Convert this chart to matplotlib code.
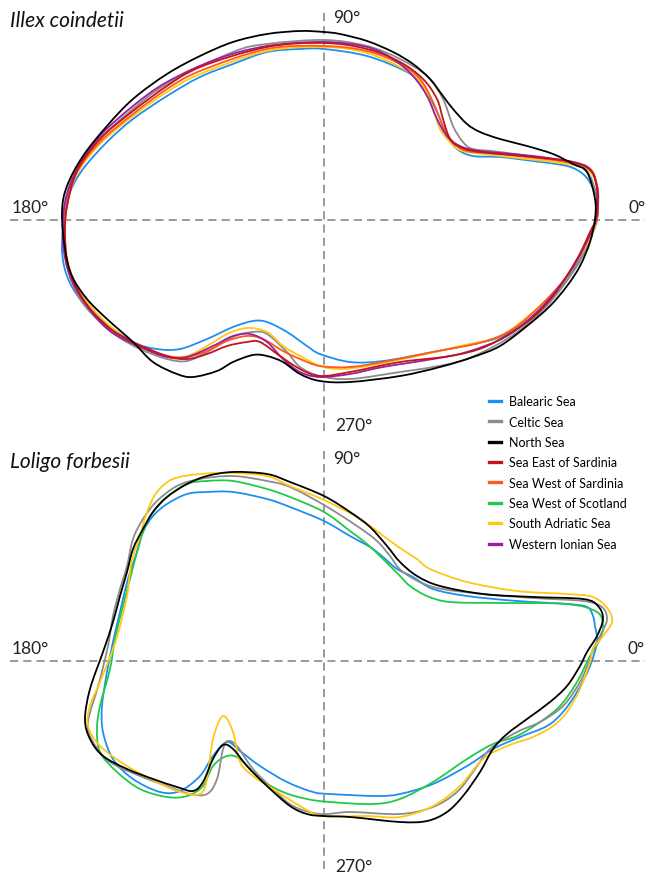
import numpy as np
import matplotlib
matplotlib.use("Agg")
import matplotlib.pyplot as plt
from matplotlib.path import Path
from matplotlib.patches import PathPatch
from matplotlib.lines import Line2D

plt.rcParams["font.family"] = ["Lato", "DejaVu Sans"]

# ── Mean statolith outlines, (x, y) relative to the centroid ─────────────────
# Listed counter-clockwise starting near 0°.

REGIONS = [
    "Balearic Sea", "Celtic Sea", "North Sea", "Sea East of Sardinia",
    "Sea West of Sardinia", "Sea West of Scotland", "South Adriatic Sea",
    "Western Ionian Sea",
]
COLORS = ["#1e8ff0", "#8c8c8c", "#000000", "#c0141e",
          "#ff5a1a", "#22c84a", "#ffc814", "#9b1fa0"]

# Illex coindetii
ILLEX_BALEARIC = [
    (273, 1), (273, 21), (268, 34), (259, 46), (243, 54), (209, 59), (176, 63),
    (149, 64), (133, 71), (123, 84), (113, 108), (99, 134), (83, 148), (43, 164),
    (0, 171), (-24, 171), (-57, 168), (-91, 156), (-124, 143), (-157, 124),
    (-191, 101), (-217, 78), (-241, 51), (-254, 28), (-259, 8), (-262, -29),
    (-257, -56), (-244, -79), (-224, -99), (-191, -122), (-167, -129),
    (-144, -129), (-117, -119), (-91, -107), (-71, -101), (-57, -102),
    (-37, -112), (-17, -126), (-4, -134), (26, -142), (59, -141), (109, -132),
    (159, -122), (183, -114), (209, -96), (236, -69), (256, -39), (269, -12),
]
ILLEX_CELTIC = [
    (272, 1), (273, 21), (271, 31), (263, 48), (243, 58), (176, 68), (149, 71),
    (139, 78), (129, 94), (119, 121), (103, 144), (76, 161), (43, 174), (0, 180),
    (-57, 176), (-91, 168), (-157, 136), (-191, 111), (-224, 81), (-247, 48),
    (-259, 14), (-259, -12), (-257, -46), (-244, -79), (-224, -102),
    (-207, -116), (-184, -129), (-157, -139), (-137, -141), (-117, -132),
    (-91, -117), (-71, -112), (-57, -114), (-37, -132), (-24, -147),
    (-4, -156), (26, -159), (76, -152), (109, -147), (143, -139), (183, -119),
    (209, -99), (229, -79), (253, -46), (266, -19),
]
ILLEX_NORTH = [
    (271, 1), (271, 21), (263, 48), (249, 56), (229, 66), (203, 74), (176, 81),
    (156, 88), (143, 96), (129, 111), (119, 124), (106, 141), (89, 156),
    (69, 168), (43, 179), (16, 186), (0, 188), (-24, 189), (-57, 186),
    (-91, 178), (-124, 164), (-157, 146), (-191, 121), (-217, 94), (-241, 64),
    (-257, 34), (-262, 8), (-259, -29), (-252, -56), (-237, -79), (-217, -99),
    (-191, -122), (-171, -142), (-147, -154), (-131, -157), (-107, -151),
    (-91, -142), (-71, -135), (-57, -136), (-41, -142), (-24, -154),
    (-4, -161), (26, -162), (76, -156), (116, -147), (149, -137), (176, -126),
    (203, -106), (226, -86), (243, -66), (256, -46), (266, -22),
]
ILLEX_EAST_SARDINIA = [
    (272, 1), (273, 21), (273, 31), (268, 48), (249, 58), (209, 63), (156, 68),
    (136, 73), (126, 81), (119, 101), (113, 121), (99, 141), (76, 158),
    (43, 171), (0, 177), (-57, 173), (-124, 153), (-157, 134), (-191, 109),
    (-224, 81), (-247, 49), (-257, 14), (-259, -12), (-256, -46), (-241, -79),
    (-217, -106), (-191, -122), (-157, -136), (-137, -139), (-117, -134),
    (-97, -126), (-77, -122), (-64, -122), (-44, -136), (-24, -149),
    (-4, -156), (26, -152), (76, -142), (126, -136), (163, -126), (203, -102),
    (229, -76), (253, -39), (266, -12),
]
ILLEX_WEST_SARDINIA = [
    (273, 1), (274, 14), (273, 34), (266, 51), (243, 58), (176, 66), (143, 69),
    (129, 78), (119, 94), (109, 118), (96, 141), (76, 156), (43, 169),
    (0, 174), (-57, 171), (-124, 149), (-157, 131), (-191, 106), (-224, 78),
    (-247, 48), (-257, 14), (-259, -19), (-254, -56), (-237, -86),
    (-214, -109), (-184, -126), (-157, -136), (-137, -137), (-117, -131),
    (-97, -121), (-77, -116), (-61, -119), (-41, -131), (-24, -139),
    (-4, -146), (26, -147), (59, -142), (109, -132), (159, -122), (189, -109),
    (216, -86), (243, -56), (263, -22),
]
ILLEX_ADRIATIC = [
    (272, 1), (274, 14), (274, 28), (266, 48), (243, 56), (176, 64), (139, 69),
    (126, 78), (116, 91), (109, 111), (99, 134), (83, 149), (43, 167),
    (0, 173), (-57, 169), (-124, 146), (-157, 128), (-191, 104), (-224, 76),
    (-247, 46), (-257, 14), (-259, -22), (-251, -59), (-231, -89),
    (-207, -112), (-181, -129), (-157, -136), (-137, -136), (-117, -126),
    (-97, -114), (-77, -108), (-57, -112), (-41, -126), (-24, -136),
    (-4, -146), (16, -149), (43, -146), (93, -136), (136, -126), (176, -116),
    (209, -92), (236, -66), (256, -36), (269, -12),
]
ILLEX_IONIAN = [
    (272, 1), (274, 21), (273, 34), (266, 51), (249, 58), (209, 64), (156, 69),
    (136, 74), (123, 84), (113, 101), (103, 124), (89, 144), (69, 161),
    (43, 173), (0, 178), (-57, 174), (-107, 161), (-157, 138), (-191, 114),
    (-224, 84), (-247, 51), (-259, 18), (-261, -22), (-254, -56), (-237, -86),
    (-214, -111), (-184, -127), (-157, -137), (-137, -137), (-111, -126),
    (-91, -116), (-74, -114), (-57, -122), (-41, -139), (-24, -152),
    (-4, -157), (26, -154), (59, -147), (109, -139), (143, -132), (183, -116),
    (216, -89), (243, -56), (259, -29),
]

# Loligo forbesii
LOLIGO_BALEARIC = [
    (273, 19), (271, 35), (269, 45), (263, 54), (243, 57), (193, 60), (143, 65),
    (109, 72), (89, 84), (73, 92), (59, 104), (46, 114), (26, 125), (0, 140),
    (-34, 154), (-57, 162), (-91, 169), (-117, 169), (-137, 167), (-157, 157),
    (-171, 145), (-181, 129), (-187, 109), (-196, 82), (-204, 49), (-211, 19),
    (-217, -11), (-222, -45), (-221, -71), (-211, -98), (-191, -118),
    (-164, -131), (-144, -130), (-124, -115), (-111, -95), (-97, -81),
    (-84, -90), (-64, -105), (-37, -121), (-11, -131), (6, -133), (53, -135),
    (76, -133), (109, -123), (143, -105), (169, -88), (196, -76), (223, -65),
    (239, -51), (253, -31), (266, -5),
]
LOLIGO_CELTIC = [
    (269, 12), (278, 29), (283, 42), (278, 54), (259, 60), (209, 63), (159, 67),
    (109, 74), (79, 89), (66, 105), (53, 120), (33, 135), (0, 156), (-34, 174),
    (-57, 180), (-91, 185), (-124, 182), (-147, 175), (-167, 160), (-181, 142),
    (-191, 122), (-197, 95), (-204, 72), (-211, 45), (-216, 15),
    (-225, -22), (-236, -61), (-231, -81), (-214, -101), (-184, -115),
    (-157, -125), (-134, -133), (-117, -133), (-107, -118), (-101, -88),
    (-96, -80), (-87, -85), (-71, -108), (-51, -128), (-31, -145), (-4, -153),
    (26, -151), (76, -153), (109, -146), (133, -131), (149, -111), (166, -88),
    (193, -71), (216, -61), (239, -45), (256, -21), (266, 2),
]
LOLIGO_NORTH = [
    (263, 9), (273, 25), (279, 42), (274, 55), (259, 62), (209, 64), (159, 67),
    (116, 75), (93, 85), (76, 99), (63, 115), (46, 134), (26, 149), (0, 165),
    (-34, 179), (-57, 187), (-91, 189), (-117, 185), (-137, 177), (-157, 164),
    (-171, 149), (-181, 132), (-191, 112), (-197, 89), (-204, 65), (-211, 39),
    (-221, 9), (-234, -28), (-239, -58), (-234, -78), (-221, -95),
    (-197, -108), (-171, -118), (-147, -126), (-131, -130), (-121, -121),
    (-111, -98), (-101, -84), (-91, -88), (-77, -105), (-57, -125),
    (-34, -145), (-17, -153), (-1, -155), (26, -156), (76, -161), (103, -160),
    (123, -151), (139, -135), (156, -111), (169, -88), (183, -73), (203, -58),
    (226, -41), (243, -25), (256, -5),
]
LOLIGO_SCOTLAND = [
    (266, 5), (276, 22), (279, 35), (273, 49), (243, 57), (176, 58), (126, 59),
    (103, 65), (86, 75), (76, 85), (59, 102), (43, 117), (26, 130), (0, 149),
    (-34, 164), (-57, 172), (-91, 180), (-117, 180), (-137, 177), (-157, 164),
    (-171, 149), (-181, 129), (-187, 109), (-194, 82), (-201, 55), (-209, 22),
    (-214, -8), (-224, -45), (-227, -68), (-224, -91), (-207, -111),
    (-184, -128), (-157, -136), (-137, -135), (-121, -125), (-111, -105),
    (-97, -95), (-84, -98), (-64, -118), (-41, -131), (-17, -138), (6, -141),
    (49, -143), (76, -138), (109, -121), (143, -98), (169, -83), (193, -75),
    (216, -61), (236, -45), (253, -21),
]
LOLIGO_ADRIATIC = [
    (269, 12), (279, 25), (288, 39), (284, 52), (269, 64), (243, 67), (193, 70),
    (143, 79), (106, 92), (93, 102), (73, 115), (53, 130), (33, 144), (0, 161),
    (-34, 175), (-57, 185), (-91, 188), (-124, 187), (-151, 182), (-167, 169),
    (-177, 149), (-184, 125), (-191, 105), (-194, 89), (-197, 65), (-204, 35),
    (-211, 12), (-224, -21), (-234, -45), (-236, -65), (-224, -85),
    (-197, -105), (-167, -121), (-144, -131), (-124, -133), (-117, -118),
    (-111, -78), (-101, -55), (-91, -71), (-84, -101), (-71, -115),
    (-51, -128), (-24, -145), (-1, -155), (43, -155), (76, -156), (109, -145),
    (136, -125), (159, -98), (183, -85), (209, -76), (229, -65), (243, -51),
    (256, -28), (266, -1),
]

ILLEX = {
    "Balearic Sea": ILLEX_BALEARIC,
    "Celtic Sea": ILLEX_CELTIC,
    "South Adriatic Sea": ILLEX_ADRIATIC,
    "Sea West of Sardinia": ILLEX_WEST_SARDINIA,
    "Western Ionian Sea": ILLEX_IONIAN,
    "Sea East of Sardinia": ILLEX_EAST_SARDINIA,
    "North Sea": ILLEX_NORTH,
}
LOLIGO = {
    "Balearic Sea": LOLIGO_BALEARIC,
    "Sea West of Scotland": LOLIGO_SCOTLAND,
    "Celtic Sea": LOLIGO_CELTIC,
    "South Adriatic Sea": LOLIGO_ADRIATIC,
    "North Sea": LOLIGO_NORTH,
}


def closed_curve(points):
    """Smooth closed Bezier path through the outline points (Catmull-Rom)."""
    p = np.asarray(points, dtype=float)
    prev = np.roll(p, 1, axis=0)
    nxt = np.roll(p, -1, axis=0)
    nxt2 = np.roll(p, -2, axis=0)
    c1 = p + (nxt - prev) / 6.0
    c2 = nxt - (nxt2 - p) / 6.0
    verts = [p[0]]
    codes = [Path.MOVETO]
    for i in range(len(p)):
        verts += [c1[i], c2[i], nxt[i]]
        codes += [Path.CURVE4] * 3
    return Path(verts, codes)


def draw_panel(ax, outlines, title, bottom_gap):
    ax.set_aspect("equal")
    ax.axis("off")
    dash = dict(color="#9a9a9a", lw=1.4, ls=(0, (4.2, 2.6)), zorder=0)
    ax.axhline(0, xmin=0.016, xmax=1.0, **dash)
    ax.axvline(0, ymin=bottom_gap, ymax=0.978, **dash)

    colour = dict(zip(REGIONS, COLORS))
    for name, pts in outlines.items():
        ax.add_patch(PathPatch(closed_curve(pts), fill=False,
                               edgecolor=colour[name], lw=1.3, zorder=2))

    lab = dict(fontsize=12.5, color="#222222", va="center")
    ax.text(-312, 13, "180°", ha="left", **lab)
    ax.text(304, 13, "0°", ha="left", **lab)
    ax.text(9, 203, "90°", ha="left", **lab)
    ax.text(11, -205, "270°", ha="left", **lab)
    ax.text(-314, 200, title, ha="left", va="center", fontsize=15,
            style="italic", color="#111111")


fig = plt.figure(figsize=(6.45, 8.79), dpi=100)
fig.patch.set_facecolor("white")

ax_top = fig.add_axes([0, 439 / 879, 1, 440 / 879])
ax_top.set_xlim(-324, 321)
ax_top.set_ylim(-219, 221)
draw_panel(ax_top, ILLEX, "Illex coindetii", 0.018)

ax_bot = fig.add_axes([0, 0, 1, 439 / 879])
ax_bot.set_xlim(-324, 321)
ax_bot.set_ylim(-217, 222)
draw_panel(ax_bot, LOLIGO, "Loligo forbesii", 0.02)

handles = [Line2D([], [], color=c, lw=2.4) for c in COLORS]
fig.legend(handles, REGIONS, loc="upper left",
           bbox_to_anchor=(483 / 645, 1 - 390 / 879), frameon=False,
           fontsize=9, handlelength=0.9, handletextpad=0.7,
           labelspacing=0.67, borderpad=0)

fig.savefig("out.png", dpi=100, facecolor="white")
